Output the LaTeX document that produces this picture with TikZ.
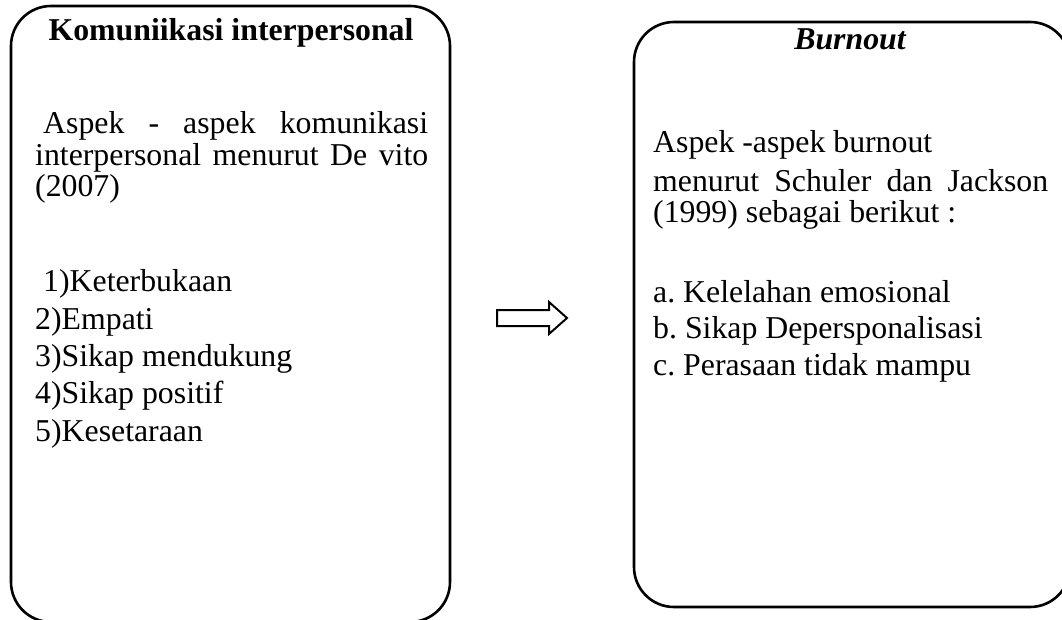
\documentclass[tikz,border=0pt]{standalone}
\usepackage{fontspec}
\setmainfont{Liberation Serif}
\frenchspacing
\begin{document}
\begin{tikzpicture}[x=1pt,y=-1pt,
  box/.style={draw=black,line width=2.6pt,rounded corners=40pt,inner sep=0pt},
  txt/.style={anchor=base west,inner sep=0pt,font=\fontsize{31.8}{38}\selectfont},
  ttl/.style={anchor=base,inner sep=0pt,font=\fontsize{31.8}{38}\selectfont\bfseries},
  blockarrow/.style={draw=black,line width=2pt,fill=white,line join=miter}]
\useasboundingbox (0,0) rectangle (1062,620);
% boxes
\node[box,minimum width=439pt,minimum height=616pt] (leftbox) at (230.5,314) {};
\node[box,minimum width=436pt,minimum height=585pt] (rightbox) at (852,314.5) {};
% left texts
\node[ttl] (lt) at (231,41) {Komuniikasi interpersonal};
\node[txt] (l1) at (43,134) {\makebox[385pt][s]{Aspek - aspek komunikasi}};
\node[txt] (l2) at (35,166) {\makebox[393pt][s]{interpersonal menurut De vito}};
\node[txt] (l3) at (35,197) {(2007)};
\node[txt] (i1) at (43,291) {1)Keterbukaan};
\node[txt] (i2) at (35,329) {2)Empati};
\node[txt] (i3) at (35,366) {3)Sikap mendukung};
\node[txt] (i4) at (35,403) {4)Sikap positif};
\node[txt] (i5) at (35,441) {5)Kesetaraan};
% right texts
\node[ttl,font=\fontsize{31.8}{38}\selectfont\bfseries\itshape] (rt) at (850,50) {Burnout};
\node[txt] (r1) at (653,153) {Aspek -aspek burnout};
\node[txt] (r2) at (653,192) {\makebox[395pt][s]{menurut Schuler dan Jackson}};
\node[txt] (r3) at (653,223) {(1999) sebagai berikut :};
\node[txt] (a1) at (653,302) {a. Kelelahan emosional};
\node[txt] (a2) at (653,338) {b. Sikap Depersponalisasi};
\node[txt] (a3) at (653,375) {c. Perasaan tidak mampu};
% block arrow
\coordinate (as) at (497,318);
\coordinate (at) at (567,318);
\draw[blockarrow] (497,310) -- (549,310) -- (549,302) -- (at) -- (549,334) -- (549,326) -- (497,326) -- cycle;
\end{tikzpicture}
\end{document}
